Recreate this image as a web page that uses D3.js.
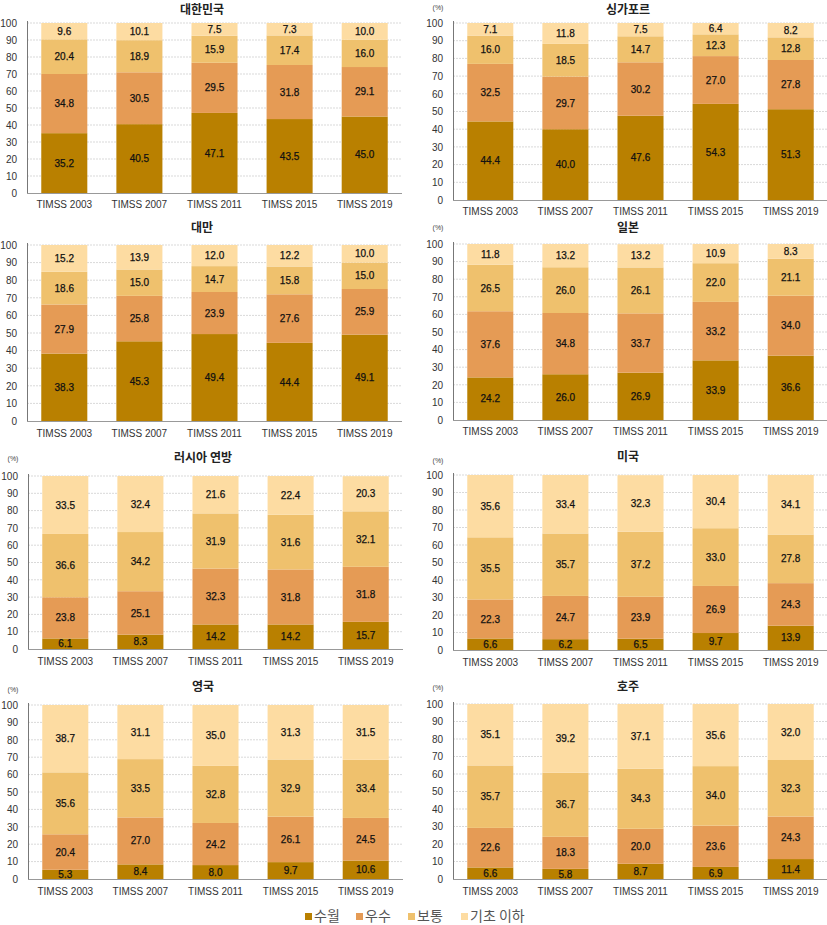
<!DOCTYPE html>
<html><head><meta charset="utf-8">
<script src="https://cdn.jsdelivr.net/npm/d3@7"></script>
<style>body{margin:0;background:#fff}svg{display:block}</style>
</head><body>
<script>
const years = ["TIMSS 2003","TIMSS 2007","TIMSS 2011","TIMSS 2015","TIMSS 2019"];
const levels = ["수월","우수","보통","기초 이하"];
const levelColors = ["#b98000","#e59b55","#efc16d","#fddca2"];
const yTicks = [0,10,20,30,40,50,60,70,80,90,100];

// each: [수월, 우수, 보통, 기초 이하] by year
const korea = [[35.2,40.5,47.1,43.5,45.0],[34.8,30.5,29.5,31.8,29.1],[20.4,18.9,15.9,17.4,16.0],[9.6,10.1,7.5,7.3,10.0]];
const singapore = [[44.4,40.0,47.6,54.3,51.3],[32.5,29.7,30.2,27.0,27.8],[16.0,18.5,14.7,12.3,12.8],[7.1,11.8,7.5,6.4,8.2]];
const taiwan = [[38.3,45.3,49.4,44.4,49.1],[27.9,25.8,23.9,27.6,25.9],[18.6,15.0,14.7,15.8,15.0],[15.2,13.9,12.0,12.2,10.0]];
const japan = [[24.2,26.0,26.9,33.9,36.6],[37.6,34.8,33.7,33.2,34.0],[26.5,26.0,26.1,22.0,21.1],[11.8,13.2,13.2,10.9,8.3]];
const russia = [[6.1,8.3,14.2,14.2,15.7],[23.8,25.1,32.3,31.8,31.8],[36.6,34.2,31.9,31.6,32.1],[33.5,32.4,21.6,22.4,20.3]];
const usa = [[6.6,6.2,6.5,9.7,13.9],[22.3,24.7,23.9,26.9,24.3],[35.5,35.7,37.2,33.0,27.8],[35.6,33.4,32.3,30.4,34.1]];
const uk = [[5.3,8.4,8.0,9.7,10.6],[20.4,27.0,24.2,26.1,24.5],[35.6,33.5,32.8,32.9,33.4],[38.7,31.1,35.0,31.3,31.5]];
const australia = [[6.6,5.8,8.7,6.9,11.4],[22.6,18.3,20.0,23.6,24.3],[35.7,36.7,34.3,34.0,32.3],[35.1,39.2,37.1,35.6,32.0]];

const countryNames = ["대한민국","싱가포르","대만","일본","러시아 연방","미국","영국","호주"];
const countryData = [korea, singapore, taiwan, japan, russia, usa, uk, australia];

const panels = [
  {left:27, top:23, bottom:193, titleY:10, pctY:null, labelY:204},
  {left:453, top:23, bottom:200, titleY:10, pctY:8, labelY:211},
  {left:27, top:245, bottom:421, titleY:228, pctY:null, labelY:433},
  {left:453, top:244, bottom:420, titleY:228, pctY:228, labelY:431},
  {left:28, top:476, bottom:649, titleY:458, pctY:459, labelY:661},
  {left:453, top:475, bottom:650, titleY:457, pctY:461, labelY:662},
  {left:28, top:705, bottom:879, titleY:687, pctY:690, labelY:891},
  {left:453, top:704, bottom:879, titleY:687, pctY:688, labelY:891}
];
const plotW = 375;

const svg = d3.select("body").append("svg").attr("width",827).attr("height",925);
const numFont = "'Liberation Sans', Arial, sans-serif";
const korFont = "'Noto Sans CJK KR', 'Noto Sans', sans-serif";

panels.forEach((p,i)=>{
  const data = countryData[i];
  const g = svg.append("g");
  const x = d3.scaleBand().domain(years).range([p.left, p.left+plotW]).paddingInner(0.387).paddingOuter(0.19);
  const y = d3.scaleLinear().domain([0,100]).range([p.bottom, p.top]);

  // grid
  g.selectAll("line.grid").data(yTicks.filter(t=>t>0)).join("line")
    .attr("x1",p.left).attr("x2",p.left+plotW)
    .attr("y1",d=>y(d)).attr("y2",d=>y(d))
    .attr("stroke","#d9d9d9").attr("stroke-width",1).attr("stroke-dasharray","2,1");

  // y tick labels
  const ya = d3.axisLeft(y).tickValues(yTicks).tickSize(0).tickPadding(10);
  const yg = g.append("g").attr("transform",`translate(${p.left},0)`).call(ya);
  yg.select(".domain").remove();
  yg.selectAll("text").attr("font-family",numFont).attr("font-size",10).attr("fill","#333");

  // stacked bars
  const rows = years.map((yr,j)=>{ const o={year:yr}; levels.forEach((l,k)=>o[l]=data[k][j]); return o; });
  const series = d3.stack().keys(levels)(rows);
  series.forEach((s,k)=>{
    g.selectAll(null).data(s).join("rect")
      .attr("x",d=>x(d.data.year)).attr("width",x.bandwidth())
      .attr("y",d=>y(Math.min(d[1],100))).attr("height",d=>y(d[0])-y(Math.min(d[1],100)))
      .attr("fill",levelColors[k]);
  });
  series.forEach((s,k)=>{
    g.selectAll(null).data(s).join("text")
      .attr("x",d=>x(d.data.year)+x.bandwidth()/2)
      .attr("y",d=>(y(d[0])+y(Math.min(d[1],100)))/2)
      .attr("dy","0.36em").attr("text-anchor","middle")
      .attr("font-family",numFont).attr("font-size",10).attr("fill","#111")
      .attr("stroke","#111").attr("stroke-width",0.25)
      .text(d=>d.data[levels[k]].toFixed(1));
  });

  // axes lines
  g.append("line").attr("x1",p.left+0.5).attr("x2",p.left+0.5).attr("y1",p.top-2).attr("y2",p.bottom+1)
    .attr("stroke","#777").attr("stroke-width",1);
  g.append("line").attr("x1",p.left).attr("x2",p.left+plotW).attr("y1",p.bottom+0.5).attr("y2",p.bottom+0.5)
    .attr("stroke","#999").attr("stroke-width",1);

  // x labels
  g.selectAll(null).data(years).join("text")
    .attr("x",d=>x(d)+x.bandwidth()/2).attr("y",p.labelY).attr("dy","0.35em")
    .attr("text-anchor","middle").attr("font-family",numFont).attr("font-size",10).attr("fill","#333")
    .text(d=>d);

  // title
  g.append("text").attr("x",p.left+175).attr("y",p.titleY).attr("dy","0.35em")
    .attr("text-anchor","middle").attr("font-family",korFont).attr("font-weight","bold")
    .attr("font-size",12).attr("fill","#222").text(countryNames[i]);

  if(p.pctY!==null){
    g.append("text").attr("x",p.left-15).attr("y",p.pctY).attr("dy","0.35em")
      .attr("text-anchor","middle").attr("font-family",numFont).attr("font-size",7).attr("fill","#444").text("(%)");
  }
});

// legend
const legendX = [305,356,408,461];
const lg = svg.append("g");
levels.forEach((l,k)=>{
  lg.append("rect").attr("x",legendX[k]).attr("y",913).attr("width",7).attr("height",7).attr("fill",levelColors[k]);
  lg.append("text").attr("x",legendX[k]+9).attr("y",916).attr("dy","0.35em")
    .attr("font-family",korFont).attr("font-size",14).attr("fill","#555").text(l);
});
</script>
</body></html>
